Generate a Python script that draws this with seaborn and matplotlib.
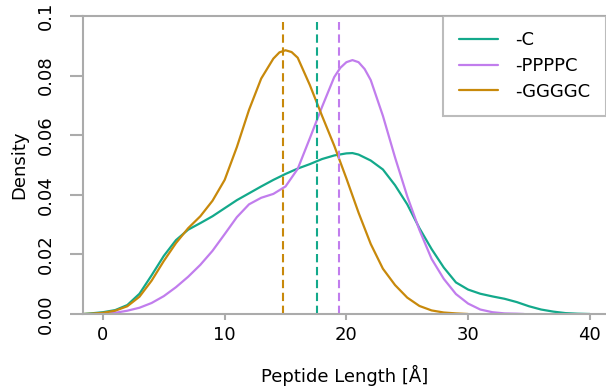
import numpy as np
import pandas as pd
import matplotlib
matplotlib.use("Agg")
import matplotlib.pyplot as plt
import seaborn as sns

# ── Curve values (Peptide Length [Å] vs density) ────
x_c = [-1.6, -1, 0, 1, 2, 3, 4, 5, 6, 7, 8, 9, 10, 11, 12, 13, 14, 15, 16, 17,
       18, 19, 20, 20.5, 21, 22, 23, 24, 25, 26, 27, 28, 29, 30, 31, 32, 33,
       34, 35, 36, 37, 38, 39, 40]
dens_c = [0.0, 0.0002, 0.0006, 0.0013, 0.0030, 0.0068, 0.0130, 0.0195, 0.0248,
          0.0283, 0.0305, 0.0328, 0.0355, 0.0382, 0.0405, 0.0428, 0.0450,
          0.0470, 0.0488, 0.0503, 0.0520, 0.0532, 0.0539, 0.0540, 0.0535,
          0.0515, 0.0485, 0.0432, 0.0368, 0.0288, 0.0218, 0.0156, 0.0106,
          0.0082, 0.0068, 0.0059, 0.0051, 0.0040, 0.0026, 0.0015, 0.0008,
          0.0003, 0.0001, 0.0]

x_p = [0, 1, 2, 3, 4, 5, 6, 7, 8, 9, 10, 11, 12, 13, 14, 15, 16, 17, 18, 19,
       19.5, 20, 20.5, 21, 21.5, 22, 23, 24, 25, 26, 27, 28, 29, 30, 31, 32,
       33, 34, 34.6]
dens_p = [0.0, 0.0004, 0.0011, 0.0021, 0.0037, 0.0060, 0.0090, 0.0125, 0.0165,
          0.0212, 0.0268, 0.0325, 0.0368, 0.0390, 0.0403, 0.0428, 0.0487,
          0.0590, 0.0695, 0.0795, 0.0826, 0.0845, 0.0852, 0.0845, 0.0822,
          0.0785, 0.0665, 0.0525, 0.0395, 0.0282, 0.0185, 0.0118, 0.0067,
          0.0035, 0.0015, 0.0006, 0.0002, 0.0001, 0.0]

x_g = [-1.6, -1, 0, 1, 2, 3, 4, 5, 6, 7, 8, 9, 10, 11, 12, 13, 14, 14.5, 15,
       15.5, 16, 17, 18, 19, 20, 21, 22, 23, 24, 25, 26, 27, 28, 29, 30]
dens_g = [0.0, 0.0001, 0.0004, 0.0011, 0.0026, 0.0058, 0.0112, 0.0178, 0.0238,
          0.0288, 0.0328, 0.0380, 0.0450, 0.0560, 0.0685, 0.0790, 0.0857,
          0.0878, 0.0885, 0.0879, 0.0860, 0.0768, 0.0665, 0.0565, 0.0455,
          0.0340, 0.0235, 0.0152, 0.0097, 0.0055, 0.0027, 0.0012, 0.0005,
          0.0002, 0.0]

labels = ["-C", "-PPPPC", "-GGGGC"]
means = [17.56, 19.42, 14.77]
colores = ["#13a98b", "#c17ded", "#c8890b"]

df = pd.concat([
    pd.DataFrame({"x": x_c, "d": dens_c, "pep": labels[0]}),
    pd.DataFrame({"x": x_p, "d": dens_p, "pep": labels[1]}),
    pd.DataFrame({"x": x_g, "d": dens_g, "pep": labels[2]}),
], ignore_index=True)

sns.set_theme(style="ticks")
plt.rcParams["font.family"] = "DejaVu Sans"
plt.rcParams["text.color"] = "black"
plt.rcParams["axes.labelcolor"] = "black"
plt.rcParams["xtick.labelcolor"] = "black"
plt.rcParams["ytick.labelcolor"] = "black"
GRIS = "#ababab"

fig = plt.figure(figsize=(6.06, 3.87), dpi=100)
ax = fig.add_axes([83 / 606, 1 - 314 / 387, 1 - 83 / 606, 298 / 387])

sns.lineplot(data=df, x="x", y="d", hue="pep", palette=colores,
             hue_order=labels, lw=1.6, ax=ax, sort=False, estimator=None)

for m, cor in zip(means, colores):
    ax.vlines(m, 0, 0.098, colors=cor, lw=1.5, linestyles=(0, (4, 2.2)))

ax.set_xlim(-1.64, 41.33)
ax.set_ylim(0, 0.1)
ax.set_xticks([0, 10, 20, 30, 40])
ax.set_yticks([0, 0.02, 0.04, 0.06, 0.08, 0.1])
ax.set_yticklabels(["0.00", "0.02", "0.04", "0.06", "0.08", "0.1"],
                   rotation=90, va="center")
ax.tick_params(axis="y", length=9.5, width=1.5, color=GRIS, labelsize=13, pad=11)
ax.tick_params(axis="x", length=4.5, width=1.5, color=GRIS, labelsize=13, pad=4)

for lado in ["left", "bottom", "top"]:
    ax.spines[lado].set_color(GRIS)
    ax.spines[lado].set_linewidth(1.5)
ax.spines["right"].set_visible(False)

ax.set_xlabel("Peptide Length [Å]", fontsize=13, labelpad=15)
ax.set_ylabel("Density", fontsize=13, labelpad=6)

leg = ax.legend(loc="upper right", fontsize=13, frameon=True, fancybox=False,
                borderaxespad=0, handlelength=2.2, handletextpad=0.95,
                labelspacing=0.42, borderpad=0.85)
leg.get_frame().set_edgecolor(GRIS)
leg.get_frame().set_linewidth(1.5)
leg.set_title(None)

fig.savefig("out.png", dpi=100)
